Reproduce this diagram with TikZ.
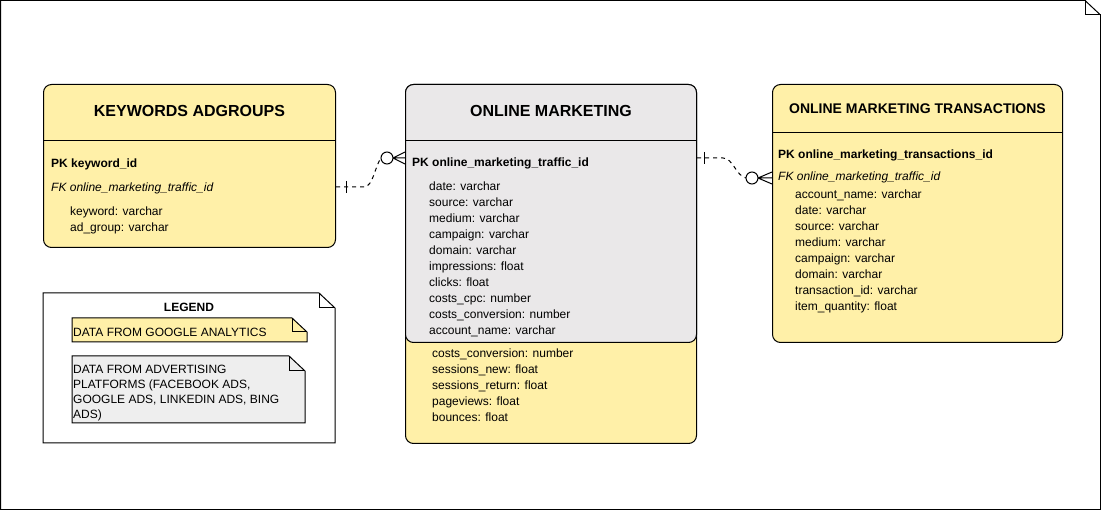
\documentclass[tikz,border=0pt]{standalone}
\usepackage{fontspec}
\setmainfont{Liberation Sans}
\usetikzlibrary{positioning,calc}

\definecolor{gayellow}{HTML}{FFF0A8}
\definecolor{adgray}{HTML}{EAE8E9}
\definecolor{notegray}{HTML}{EEEEEE}

\tikzset{
    tablebox/.style = {rectangle, rounded corners=8pt, anchor=north west, inner sep=0pt, draw=black, line width=1pt},
    tabletitle/.style = {anchor=base, inner sep=0pt, font=\bfseries\fontsize{16}{19}\selectfont},
    pkrow/.style = {anchor=base west, inner sep=0pt, font=\bfseries\fontsize{12}{14}\selectfont},
    fkrow/.style = {anchor=base west, inner sep=0pt, font=\itshape\fontsize{12}{14}\selectfont},
    fieldrow/.style = {anchor=base west, inner sep=0pt, font=\fontsize{12}{14}\selectfont},
    notebox/.style = {draw=black, line width=1pt},
    relation/.style = {draw=black, line width=1pt, dash pattern=on 4pt off 4pt},
    erend/.style = {draw=black, line width=1pt}
}

\begin{document}
\begin{tikzpicture}[x=1pt, y=-1pt]
    \useasboundingbox (0,0) rectangle (1101,510);

    % page
    \draw[notebox] (0.5,0.5) -- (1085,0.5) -- (1100.5,15) -- (1100.5,509.5) -- (0.5,509.5) -- cycle;
    \draw[notebox] (1085,0.5) -- (1085,15) -- (1100.5,15);

    % keywords adgroups
    \node[tablebox, fill=gayellow, minimum width=292pt, minimum height=163pt] (kw) at (43,84) {};
    \draw[line width=1pt] (kw.west |- 0,141) -- (kw.east |- 0,141);
    \node[tabletitle] (kwtitle) at (kw.north |- 0,117) {KEYWORDS ADGROUPS};
    \node[pkrow] (kwpk) at (51,168) {PK keyword\_id};
    \node[fkrow] (kwfk) at (51,192) {FK online\_marketing\_traffic\_id};
    \node[fieldrow] (kwf1) at (70,216) {keyword: varchar};
    \node[fieldrow] (kwf2) at (70,232) {ad\_group: varchar};

    % online marketing (analytics part behind)
    \node[tablebox, fill=gayellow, minimum width=291pt, minimum height=359pt] (omga) at (405,84) {};
    \foreach \f [count=\i from 0] in {costs\_conversion: number, sessions\_new: float, sessions\_return: float, pageviews: float, bounces: float}
        \node[fieldrow] (omga\i) at (432,{358+16*\i}) {\f};

    \node[tablebox, fill=adgray, minimum width=291pt, minimum height=258pt] (om) at (405,84) {};
    \draw[line width=1pt] (om.west |- 0,141) -- (om.east |- 0,141);
    \node[tabletitle] (omtitle) at (om.north |- 0,117) {ONLINE MARKETING};
    \node[pkrow] (ompk) at (412,167) {PK online\_marketing\_traffic\_id};
    \foreach \f [count=\i from 0] in {date: varchar, source: varchar, medium: varchar, campaign: varchar, domain: varchar, impressions: float, clicks: float, costs\_cpc: number, costs\_conversion: number, account\_name: varchar}
        \node[fieldrow] (omf\i) at (429,{191+16*\i}) {\f};

    % online marketing transactions
    \node[tablebox, fill=gayellow, minimum width=290pt, minimum height=258pt] (tr) at (772,84) {};
    \draw[line width=1pt] (tr.west |- 0,133) -- (tr.east |- 0,133);
    \node[tabletitle, font=\bfseries\fontsize{14}{17}\selectfont] (trtitle) at (tr.north |- 0,114) {ONLINE MARKETING TRANSACTIONS};
    \node[pkrow] (trpk) at (778,159) {PK online\_marketing\_transactions\_id};
    \node[fkrow] (trfk) at (778,181) {FK online\_marketing\_traffic\_id};
    \foreach \f [count=\i from 0] in {account\_name: varchar, date: varchar, source: varchar, medium: varchar, campaign: varchar, domain: varchar, transaction\_id: varchar, item\_quantity: float}
        \node[fieldrow] (trf\i) at (795,{199+16*\i}) {\f};

    % legend
    \draw[notebox, fill=white] (43,293) -- (319,293) -- (335,308) -- (335,443) -- (43,443) -- cycle;
    \draw[notebox] (319,293) -- (319,308) -- (335,308);
    \node[pkrow, anchor=base] (legend) at (189,312) {LEGEND};
    \draw[notebox, fill=gayellow] (72,318) -- (292,318) -- (307,332) -- (307,342) -- (72,342) -- cycle;
    \draw[notebox] (292,318) -- (292,332) -- (307,332);
    \node[fieldrow] (lgga) at (73,337) {DATA FROM GOOGLE ANALYTICS};
    \draw[notebox, fill=notegray] (72,356) -- (289,356) -- (305,371) -- (305,423) -- (72,423) -- cycle;
    \draw[notebox] (289,356) -- (289,371) -- (305,371);
    \foreach \t [count=\i from 0] in {DATA FROM ADVERTISING, {PLATFORMS (FACEBOOK ADS,}, {GOOGLE ADS, LINKEDIN ADS, BING}, ADS)}
        \node[fieldrow] (lgad\i) at (73,{374+15*\i}) {\t};

    % relations
    \coordinate (kwport) at (kw.east |- 0,187);
    \coordinate (omin) at (om.west |- 0,158);
    \coordinate (omport) at (om.east |- 0,158);
    \coordinate (trin) at (tr.west |- 0,178);

    \draw[relation] (kwport) -- ++(28,0) .. controls +(9,0) and +(-6,8) .. ($(omin)+(-24,0)$);
    \draw[erend] ($(kwport)+(10,-6)$) -- ($(kwport)+(10,6)$);
    \draw[erend, fill=white] ($(omin)+(-18,0)$) circle (6pt);
    \draw[erend] ($(omin)+(-12,0)$) -- ($(omin)+(0,-6)$) ($(omin)+(-12,0)$) -- (omin) ($(omin)+(-12,0)$) -- ($(omin)+(0,6)$);

    \draw[relation] (omport) -- ++(26,0) .. controls +(10,0) and +(-10,-2) .. ($(trin)+(-26,0)$);
    \draw[erend] ($(omport)+(7,-6)$) -- ($(omport)+(7,6)$);
    \draw[erend, fill=white] ($(trin)+(-20,0)$) circle (6pt);
    \draw[erend] ($(trin)+(-14,0)$) -- ($(trin)+(0,-6)$) ($(trin)+(-14,0)$) -- (trin) ($(trin)+(-14,0)$) -- ($(trin)+(0,6)$);
\end{tikzpicture}
\end{document}
